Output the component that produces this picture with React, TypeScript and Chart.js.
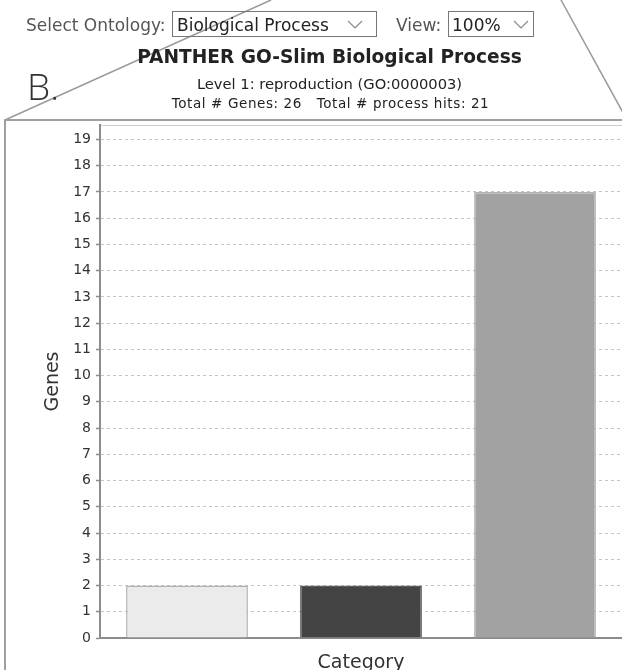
import React, { useEffect, useRef } from 'react';
import { Chart, registerables } from 'chart.js';

Chart.register(...registerables);

// ---- data ----
const categories = ['Category 1', 'Category 2', 'Category 3'];
const geneCounts = [2, 2, 17];
const barFills = ['#ebebeb', '#444444', '#a2a2a2'];
const barBorders = ['#b0b0b0', '#5c5c5c', '#b2b2b2'];
const yTickTop = 19;
const yAxisTop = 19.55;

const titleText = 'PANTHER GO-Slim Biological Process';
const levelText = 'Level 1: reproduction (GO:0000003)';
const totalsText = 'Total # Genes: 26   Total # process hits: 21';
const ontologyLabel = 'Select Ontology:';
const ontologyValue = 'Biological Process';
const viewLabel = 'View:';
const viewValue = '100%';
const panelLetter = 'B.';
const yTitle = 'Genes';
const xTitle = 'Category';

const framePlugin = {
  id: 'frame',
  beforeDraw(chart: any) {
    const { ctx, chartArea } = chart;
    ctx.save();
    ctx.fillStyle = '#ffffff';
    ctx.fillRect(0, 0, chart.width, chart.height);
    // callout lines
    ctx.strokeStyle = '#9a9a9a';
    ctx.lineWidth = 1.5;
    ctx.beginPath();
    ctx.moveTo(5, 120);
    ctx.lineTo(271, 0);
    ctx.moveTo(561, 0);
    ctx.lineTo(627, 120);
    ctx.stroke();
    // panel box
    ctx.strokeStyle = '#a0a0a0';
    ctx.lineWidth = 2;
    ctx.beginPath();
    ctx.moveTo(5, 672);
    ctx.lineTo(5, 120);
    ctx.lineTo(624, 120);
    ctx.stroke();
    // plot outline
    ctx.strokeStyle = '#d0d0d0';
    ctx.lineWidth = 1;
    ctx.strokeRect(chartArea.left + 0.5, chartArea.top + 0.5, chartArea.right - chartArea.left, chartArea.bottom - chartArea.top);
    ctx.restore();
  },
};

function Chevron({ left }: { left: number }) {
  return (
    <svg style={{ position: 'absolute', left, top: 20, width: 16, height: 10 }} width={16} height={10}>
      <polyline points="1,1 8,8 15,1" fill="none" stroke="#8a8a8a" strokeWidth={1.2} />
    </svg>
  );
}

export default function App() {
  const canvasRef = useRef<HTMLCanvasElement | null>(null);

  useEffect(() => {
    document.body.style.margin = '0';
    const canvas = canvasRef.current;
    if (!canvas) return;
    const chart = new Chart(canvas, {
      type: 'bar',
      data: {
        labels: categories,
        datasets: [
          {
            data: geneCounts,
            backgroundColor: barFills,
            borderColor: barBorders,
            borderWidth: 1.5,
            barPercentage: 0.7,
            categoryPercentage: 1,
          },
        ],
      },
      options: {
        responsive: false,
        animation: false,
        devicePixelRatio: 1,
        layout: { padding: { left: 0, top: 125, right: 0, bottom: 0 } },
        plugins: {
          legend: { display: false },
          tooltip: { enabled: false },
          title: { display: false },
        },
        scales: {
          x: {
            ticks: { display: false },
            grid: { display: false, drawTicks: false },
            border: { display: true, color: '#8c8c8c', width: 2 },
            title: {
              display: true,
              text: xTitle,
              color: '#333333',
              font: { family: 'DejaVu Sans', size: 19, lineHeight: 1 },
              padding: { top: 0, bottom: -3 },
            },
            afterFit: (s: any) => {
              s.height = 32;
            },
          },
          y: {
            min: 0,
            max: yAxisTop,
            afterBuildTicks: (s: any) => {
              const t = [];
              for (let v = 0; v <= yTickTop; v++) t.push({ value: v });
              s.ticks = t;
            },
            ticks: {
              stepSize: 1,
              color: '#333333',
              padding: 5,
              font: { family: 'DejaVu Sans', size: 14 },
            },
            grid: {
              color: '#c4c4c4',
              tickLength: 4,
              tickColor: '#8c8c8c',
              tickBorderDash: [],
              tickWidth: 1.5,
            },
            border: { display: true, color: '#8c8c8c', width: 2, dash: [3, 3] },
            title: {
              display: true,
              text: yTitle,
              color: '#333333',
              font: { family: 'DejaVu Sans', size: 19, lineHeight: 1 },
              padding: { top: 43.5, bottom: 0 },
            },
            afterFit: (s: any) => {
              s.width = 100;
            },
          },
        },
      } as any,
      plugins: [framePlugin],
    });
    return () => chart.destroy();
  }, []);

  const base: React.CSSProperties = { position: 'absolute', whiteSpace: 'pre', lineHeight: 1, fontFamily: 'DejaVu Sans' };

  return (
    <div style={{ position: 'relative', width: 622, height: 670, overflow: 'hidden', background: '#fff' }}>
      <canvas ref={canvasRef} width={622} height={670} style={{ position: 'absolute', left: 0, top: 0, width: 622, height: 670 }} />
      <div style={{ ...base, left: 26, top: 16.5, fontSize: 17, color: '#555' }}>{ontologyLabel}</div>
      <div style={{ position: 'absolute', left: 172, top: 11, width: 205, height: 26, boxSizing: 'border-box', border: '1.5px solid #777' }} />
      <div style={{ ...base, left: 177, top: 16.5, fontSize: 17, color: '#222' }}>{ontologyValue}</div>
      <Chevron left={347} />
      <div style={{ ...base, left: 396, top: 16.5, fontSize: 17, color: '#555' }}>{viewLabel}</div>
      <div style={{ position: 'absolute', left: 448, top: 11, width: 86, height: 26, boxSizing: 'border-box', border: '1.5px solid #777' }} />
      <div style={{ ...base, left: 452, top: 16.5, fontSize: 17, color: '#222' }}>{viewValue}</div>
      <Chevron left={513} />
      <div style={{ ...base, left: 0, width: 659, textAlign: 'center', top: 47.5, fontSize: 18.6, fontWeight: 'bold', color: '#222' }}>{titleText}</div>
      <div style={{ ...base, left: 0, width: 659, textAlign: 'center', top: 76.5, fontSize: 14.7, color: '#222' }}>{levelText}</div>
      <div style={{ ...base, left: 0, width: 661, textAlign: 'center', top: 97, fontSize: 13.5, letterSpacing: 0.6, color: '#222' }}>{totalsText}</div>
      <div style={{ ...base, left: 27, top: 67, fontSize: 37, fontFamily: 'Open Sans', fontWeight: 300, color: '#333' }}>{panelLetter}</div>
    </div>
  );
}
